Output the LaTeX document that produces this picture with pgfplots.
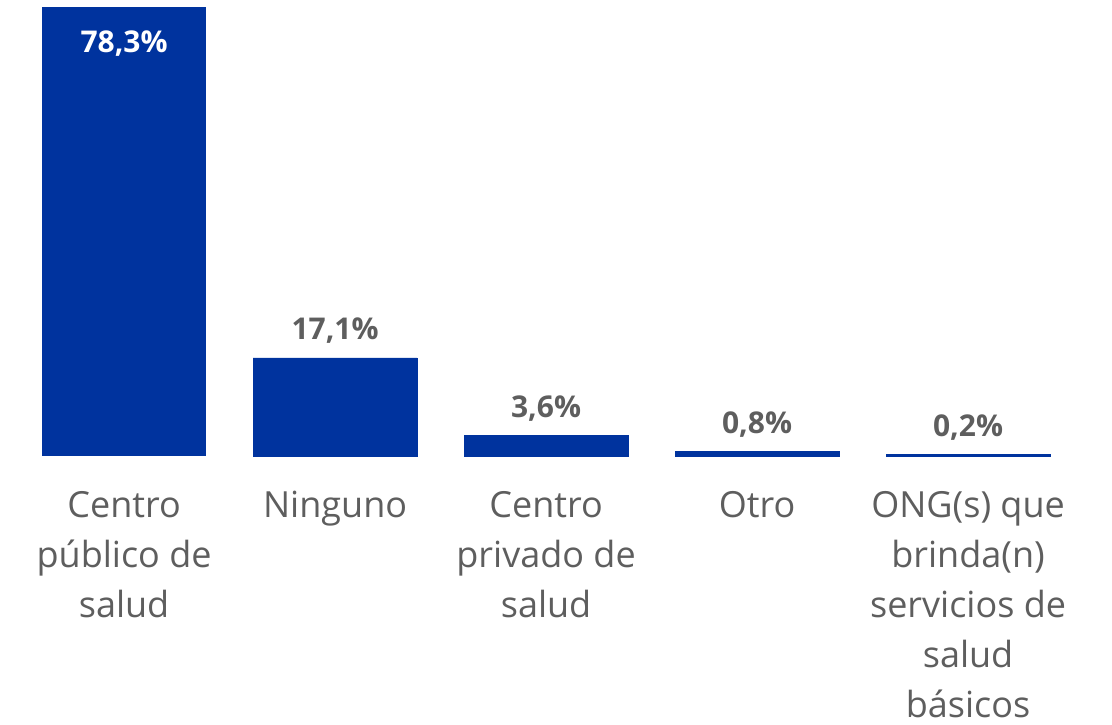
\documentclass[border=0pt]{standalone}
\usepackage{fontspec}
\setmainfont{Open Sans}
\usepackage{pgfplots}
\pgfplotsset{compat=1.18}
\definecolor{barblue}{HTML}{00339E}
\definecolor{txtgray}{HTML}{5E5E5E}

\begin{document}
\begin{tikzpicture}[x=1pt,y=1pt]
\begin{axis}[
  at={(0,269pt)}, anchor=south west,
  scale only axis, width=1112pt, height=456pt,
  xmin=-0.588, xmax=4.682, ymin=0, ymax=79.52,
  axis line style={draw=none}, hide y axis,
  major tick length=0pt,
  xtick={0,1,2,3,4},
  xticklabels={{Centro\\público de\\salud},{Ninguno},{Centro\\privado de\\salud},{Otro},{ONG(s) que\\brinda(n)\\servicios de\\salud\\básicos}},
  xticklabel style={align=center, anchor=north, yshift=-32pt, text=txtgray,
    font=\fontsize{36}{50}\selectfont},
  ybar, bar width=0.777, bar shift=0pt,
  /pgf/number format/assume math mode=true,
  clip=false,
]
  \addplot[fill=barblue, draw=none,
    nodes near coords={\pgfmathprintnumber[fixed,fixed zerofill,precision=1,use comma]{\pgfplotspointmeta}\%},
    nodes near coords style={anchor=center, yshift=-37pt, text=white, font=\bfseries\fontsize{30}{34}\selectfont}]
    coordinates {(0,78.3)};
  \addplot[fill=barblue, draw=barblue, line width=0.8pt,
    nodes near coords={\pgfmathprintnumber[fixed,fixed zerofill,precision=1,use comma]{\pgfplotspointmeta}\%},
    nodes near coords style={anchor=center, yshift=27pt, text=txtgray, font=\bfseries\fontsize{30}{34}\selectfont}]
    coordinates {(1,17.1) (2,3.6) (3,0.8) (4,0.2)};
\end{axis}
\pgfresetboundingbox
\path[use as bounding box] (0,0) rectangle (1112,725);
\end{tikzpicture}
\end{document}
